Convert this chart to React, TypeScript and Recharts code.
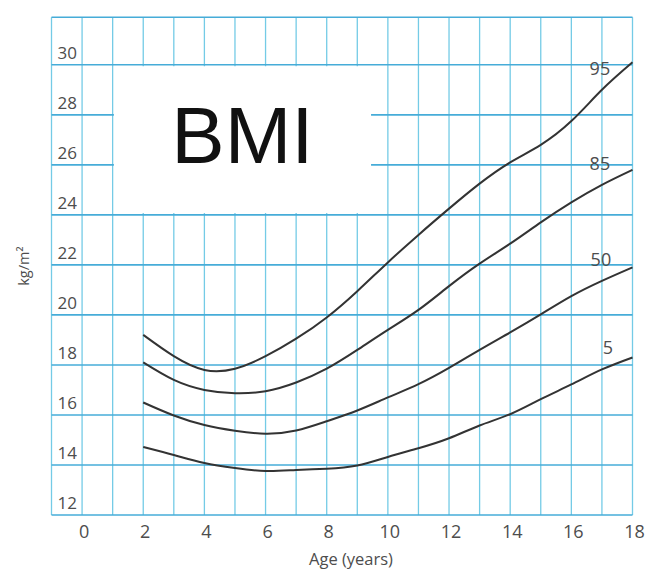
import React from "react";
import {
  LineChart,
  Line,
  XAxis,
  YAxis,
  CartesianGrid,
  ReferenceArea,
  Label,
} from "recharts";

// ages with a reading on the curves
const ages = [2, 3, 4, 5, 6, 7, 8, 9, 10, 11, 12, 13, 14, 15, 16, 17, 18];

// BMI percentile curves (kg/m2)
const p95 = [19.2, 18.35, 17.8, 17.85, 18.35, 19.05, 19.9, 20.95, 22.1, 23.2, 24.25, 25.25, 26.1, 26.8, 27.75, 29.0, 30.1];
const p85 = [18.1, 17.4, 17.0, 16.87, 16.95, 17.3, 17.85, 18.6, 19.4, 20.2, 21.15, 22.05, 22.85, 23.7, 24.5, 25.2, 25.8];
const p50 = [16.5, 15.98, 15.6, 15.37, 15.25, 15.38, 15.75, 16.18, 16.7, 17.23, 17.88, 18.6, 19.3, 20.02, 20.75, 21.36, 21.9];
const p5 = [14.72, 14.4, 14.08, 13.88, 13.76, 13.8, 13.85, 13.98, 14.32, 14.67, 15.07, 15.58, 16.03, 16.63, 17.22, 17.82, 18.3];

// grid: a line every year, every 2 kg/m2
const xTicks = [-1, 0, 1, 2, 3, 4, 5, 6, 7, 8, 9, 10, 11, 12, 13, 14, 15, 16, 17, 18];
const xLabels = [0, 2, 4, 6, 8, 10, 12, 14, 16, 18];
const yLabels = [12, 14, 16, 18, 20, 22, 24, 26, 28, 30];
const yTop = 31.9;
const yTicks = [...yLabels, yTop];

const series = [
  { key: "p95", name: "95", values: p95, dx: -2 },
  { key: "p85", name: "85", values: p85, dx: -2 },
  { key: "p50", name: "50", values: p50, dx: -1 },
  { key: "p5", name: "5", values: p5, dx: 6 },
];
const labelAge = 17;

const data = ages.map((age, i) => {
  const row: Record<string, number> = { age };
  series.forEach((s) => (row[s.key] = s.values[i]));
  return row;
});

const FONT = "'Open Sans', 'DejaVu Sans', sans-serif";
const TEXT = "#4d4d4d";

const XTick = (props: any) => {
  const { x, y, payload } = props;
  if (!xLabels.includes(payload.value)) return <g />;
  return (
    <text x={x + 2} y={y + 23} textAnchor="middle" fontSize={18} fill={TEXT} fontFamily={FONT}>
      {payload.value}
    </text>
  );
};

const YTick = (props: any) => {
  const { x, y, payload } = props;
  if (!yLabels.includes(payload.value)) return <g />;
  return (
    <text x={x + 6} y={y - 6} textAnchor="start" fontSize={17} fill={TEXT} fontFamily={FONT}>
      {payload.value}
    </text>
  );
};

const curveLabel = (name: string, dx: number) => (props: any) => {
  const { x, y, index } = props;
  if (ages[index] !== labelAge) return <g />;
  return (
    <text x={x + dx} y={y - 15} textAnchor="middle" fontSize={18} fill={TEXT} fontFamily={FONT}>
      {name}
    </text>
  );
};

export default function App() {
  return (
    <LineChart
      width={650}
      height={564}
      data={data}
      margin={{ top: 9.3, right: 25.5, left: 42.5, bottom: 0 }}
    >
      <CartesianGrid horizontal={false} stroke="#74cbe6" strokeWidth={1.3} />
      <CartesianGrid vertical={false} stroke="#46acd8" strokeWidth={1.6} />
      <XAxis
        dataKey="age"
        type="number"
        domain={[-1, 18]}
        ticks={xTicks}
        interval={0}
        height={57}
        axisLine={false}
        tickLine={false}
        tickSize={0}
        tickMargin={0}
        tick={<XTick />}
      >
        <Label
          content={({ viewBox }: any) => (
            <text
              x={viewBox.x + viewBox.width / 2 + 9}
              y={viewBox.y + 50}
              textAnchor="middle"
              fontSize={16.5}
              fill={TEXT}
              fontFamily={FONT}
            >
              Age (years)
            </text>
          )}
        />
      </XAxis>
      <YAxis
        type="number"
        domain={[12, yTop]}
        ticks={yTicks}
        interval={0}
        width={1}
        axisLine={false}
        tickLine={false}
        tickSize={0}
        tickMargin={0}
        tick={<YTick />}
      >
        <Label
          content={({ viewBox }: any) => {
            const cx = viewBox.x - 27;
            const cy = viewBox.y + viewBox.height / 2;
            return (
              <text
                x={cx}
                y={cy}
                transform={`rotate(-90, ${cx}, ${cy})`}
                textAnchor="middle"
                dominantBaseline="central"
                fontSize={14.5}
                fill={TEXT}
                fontFamily={FONT}
              >
                kg/m²
              </text>
            );
          }}
        />
      </YAxis>
      <ReferenceArea
        x1={1.04}
        x2={9.45}
        y1={24.08}
        y2={29.94}
        fill="#ffffff"
        fillOpacity={1}
        stroke="none"
      >
        <Label
          content={({ viewBox }: any) => (
            <text
              x={viewBox.x + viewBox.width / 2}
              y={viewBox.y + viewBox.height / 2 + 23}
              textAnchor="middle"
              fontSize={80}
              fill="#111"
              fontFamily="'Liberation Sans', Arial, sans-serif"
            >
              BMI
            </text>
          )}
        />
      </ReferenceArea>
      {series.map((s) => (
        <Line
          key={s.key}
          dataKey={s.key}
          type="natural"
          stroke="#333"
          strokeWidth={2}
          dot={false}
          activeDot={false}
          isAnimationActive={false}
          label={curveLabel(s.name, s.dx)}
        />
      ))}
    </LineChart>
  );
}
